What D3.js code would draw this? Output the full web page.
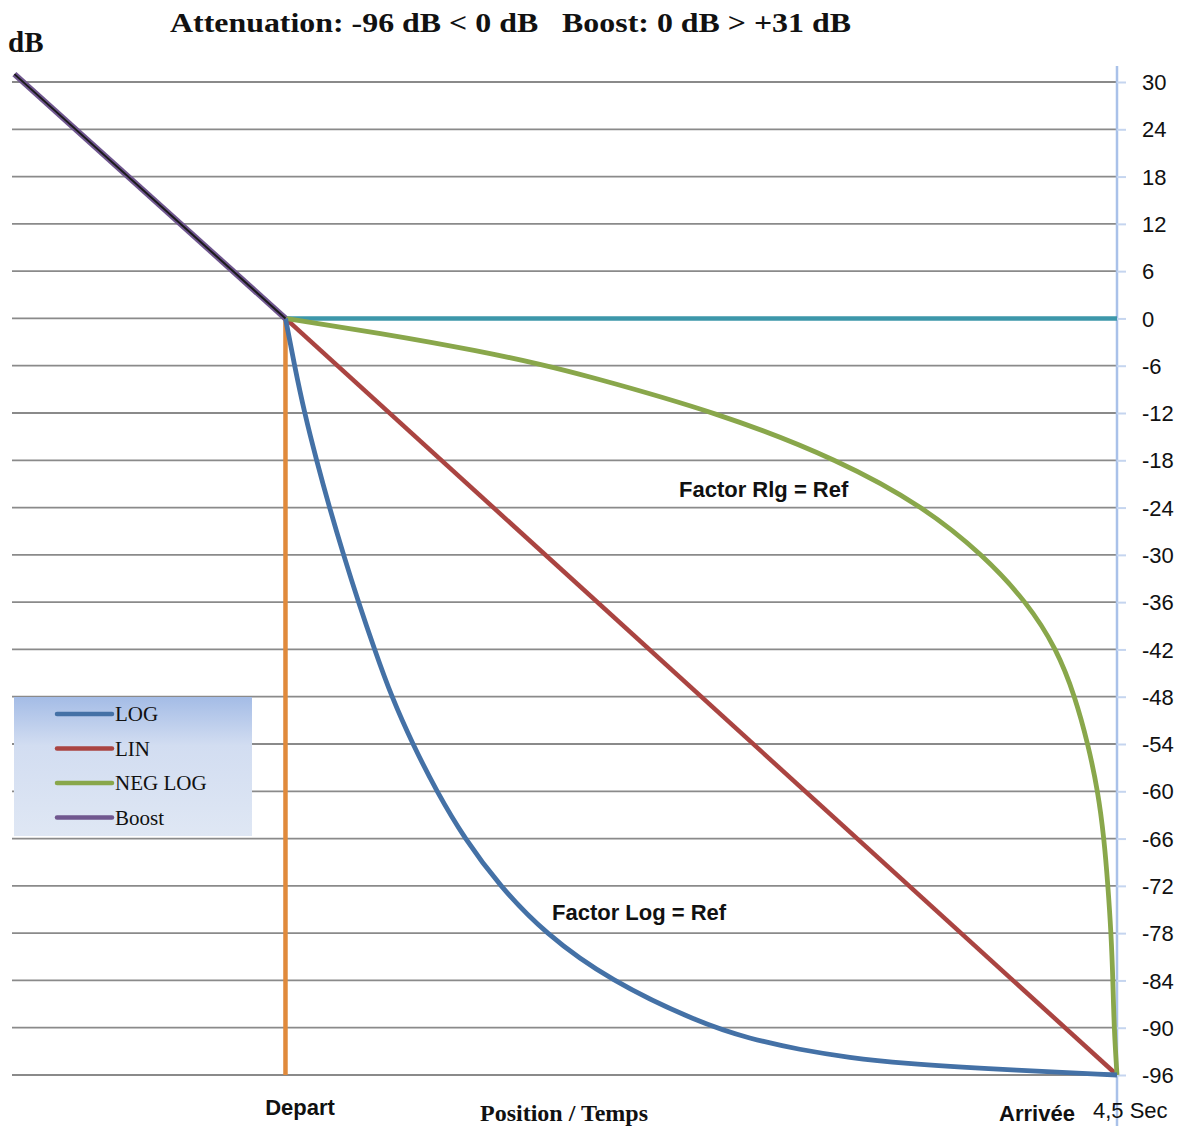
<!DOCTYPE html>
<html>
<head>
<meta charset="utf-8">
<script src="https://cdn.jsdelivr.net/npm/d3@7"></script>
<style>
  html, body { margin: 0; padding: 0; background: #ffffff; }
  svg { display: block; }
</style>
</head>
<body>
<svg id="chart" width="1190" height="1126"></svg>
<script>
// ---------- DATA ----------
const yTicks = [30, 24, 18, 12, 6, 0, -6, -12, -18, -24, -30, -36, -42, -48, -54, -60, -66, -72, -78, -84, -90, -96];

// time in seconds (Depart = 0, Arrivée = 4.5)
const boostT  = [-1.467, 0];
const boostDb = [31, 0];

const flatT  = [0, 4.5];
const flatDb = [0, 0];

const departT  = [0, 0];
const departDb = [0, -96];

const linT  = [0, 4.5];
const linDb = [0, -96];

const logT  = [0, 0.049, 0.103, 0.168, 0.238, 0.314, 0.395, 0.482, 0.574, 0.688, 0.818, 0.969, 1.159, 1.402, 1.754, 2.242, 2.513, 2.783, 3.054, 3.325, 3.866, 4.5];
const logDb = [0, -6, -12, -18, -24, -30, -36, -42, -48, -54, -60, -66, -72, -78, -84, -89.4, -91.4, -92.8, -93.8, -94.5, -95.3, -96];

const negT  = [0, 0.509, 1.050, 1.413, 1.592, 2.350, 3.000, 3.460, 3.774, 4.013, 4.175, 4.273, 4.343, 4.397, 4.430, 4.451, 4.468, 4.478, 4.484, 4.5];
const negDb = [0, -1.84, -4.12, -6, -7.04, -12, -18, -24, -30, -36, -42, -48, -54, -60, -66, -72, -78, -84, -90, -96];

const legendNames = ["LOG", "LIN", "NEG LOG", "Boost"];
const legendColors = ["#4471a6", "#aa4441", "#89a74b", "#70578f"];

const titleText = "Attenuation: -96 dB < 0 dB   Boost: 0 dB > +31 dB";

// ---------- SCALES ----------
const svg = d3.select("#chart");
const x = d3.scaleLinear().domain([-1.48, 4.5]).range([12, 1117]);
const y = d3.scaleLinear().domain([-96, 30]).range([1075, 82]);

const zip = (ts, vs) => ts.map((t, i) => ({ t, v: vs[i] }));
const line = d3.line().x(d => x(d.t)).y(d => y(d.v));
const smooth = d3.line().x(d => x(d.t)).y(d => y(d.v)).curve(d3.curveBasis);

// ---------- GRIDLINES ----------
svg.append("g").selectAll("line").data(yTicks).join("line")
  .attr("x1", x.range()[0]).attr("x2", x.range()[1])
  .attr("y1", d => y(d)).attr("y2", d => y(d))
  .attr("stroke", "#8a8a8a").attr("stroke-width", 1.8);

// ---------- RIGHT AXIS ----------
svg.append("line")
  .attr("x1", x(4.5)).attr("x2", x(4.5))
  .attr("y1", 66).attr("y2", 1126)
  .attr("stroke", "#a9c1e9").attr("stroke-width", 2.5);

const axis = d3.axisRight(y).tickValues(yTicks).tickSize(9).tickPadding(16).tickFormat(d => String(d));
const gAxis = svg.append("g").attr("transform", `translate(${x(4.5)},0)`).call(axis);
gAxis.select(".domain").remove();
gAxis.selectAll(".tick line").attr("stroke", "#c5d5ef").attr("stroke-width", 2);
gAxis.selectAll(".tick text")
  .attr("fill", "#111").attr("font-family", "'Liberation Sans', Arial, sans-serif")
  .attr("font-size", 22).attr("dy", "0.35em");

// ---------- SERIES ----------
function path(data, gen, color, w) {
  svg.append("path").datum(data).attr("d", gen)
    .attr("fill", "none").attr("stroke", color).attr("stroke-width", w)
    .attr("stroke-linejoin", "round");
}
path(zip(flatT, flatDb), line, "#3d97aa", 4.5);
path(zip(departT, departDb), line, "#e08a3c", 4.5);
path(zip(linT, linDb), line, "#aa4441", 4.5);
path(zip(negT, negDb), smooth, "#89a74b", 4.8);
path(zip(logT, logDb), smooth, "#4471a6", 4.8);
path(zip(boostT, boostDb), line, "#70578f", 6);
path(zip(boostT, boostDb), line, "#1a1a1a", 2);

// ---------- ANNOTATIONS ----------
svg.append("text").attr("x", 679).attr("y", 497)
  .attr("font-family", "'Liberation Sans', Arial, sans-serif").attr("font-weight", "bold")
  .attr("font-size", 22).attr("fill", "#111").text("Factor Rlg = Ref");
svg.append("text").attr("x", 552).attr("y", 920)
  .attr("font-family", "'Liberation Sans', Arial, sans-serif").attr("font-weight", "bold")
  .attr("font-size", 22).attr("fill", "#111").text("Factor Log = Ref");

// ---------- TITLES ----------
svg.append("text").attr("x", 170).attr("y", 32)
  .attr("font-family", "'Liberation Serif', 'Times New Roman', serif").attr("font-weight", "bold")
  .attr("font-size", 28).attr("fill", "#111")
  .style("white-space", "pre")
  .attr("textLength", 681).attr("lengthAdjust", "spacingAndGlyphs")
  .text(titleText);

svg.append("text").attr("x", 8).attr("y", 52)
  .attr("font-family", "'Liberation Serif', 'Times New Roman', serif").attr("font-weight", "bold")
  .attr("font-size", 29).attr("fill", "#111").text("dB");

svg.append("text").attr("x", 300).attr("y", 1115).attr("text-anchor", "middle")
  .attr("font-family", "'Liberation Sans', Arial, sans-serif").attr("font-weight", "bold")
  .attr("font-size", 22).attr("fill", "#111").text("Depart");

svg.append("text").attr("x", 564).attr("y", 1121).attr("text-anchor", "middle")
  .attr("font-family", "'Liberation Serif', 'Times New Roman', serif").attr("font-weight", "bold")
  .attr("font-size", 24).attr("fill", "#111").text("Position / Temps");

svg.append("text").attr("x", 1037).attr("y", 1121).attr("text-anchor", "middle")
  .attr("font-family", "'Liberation Sans', Arial, sans-serif").attr("font-weight", "bold")
  .attr("font-size", 22).attr("fill", "#111").text("Arrivée");

svg.append("text").attr("x", 1093).attr("y", 1118)
  .attr("font-family", "'Liberation Sans', Arial, sans-serif")
  .attr("font-size", 22).attr("fill", "#111").text("4,5 Sec");

// ---------- LEGEND ----------
const defs = svg.append("defs");
const grad = defs.append("linearGradient").attr("id", "lg").attr("x1", 0).attr("y1", 0).attr("x2", 0).attr("y2", 1);
grad.append("stop").attr("offset", "0%").attr("stop-color", "#a4bce6");
grad.append("stop").attr("offset", "35%").attr("stop-color", "#d2ddf1");
grad.append("stop").attr("offset", "100%").attr("stop-color", "#dfe7f4");

const lg = svg.append("g").attr("transform", "translate(14,697)");
lg.append("rect").attr("width", 238).attr("height", 139).attr("fill", "url(#lg)");
const items = lg.selectAll("g.item").data(legendNames).join("g")
  .attr("class", "item")
  .attr("transform", (d, i) => `translate(0,${17 + i * 34.5})`);
items.append("line").attr("x1", 43).attr("x2", 98).attr("y1", 0).attr("y2", 0)
  .attr("stroke", (d, i) => legendColors[i]).attr("stroke-width", 4.5).attr("stroke-linecap", "round");
items.append("text").attr("x", 101).attr("y", 7)
  .attr("font-family", "'Liberation Serif', 'Times New Roman', serif")
  .attr("font-size", 21).attr("fill", "#111").text(d => d);
</script>
</body>
</html>
